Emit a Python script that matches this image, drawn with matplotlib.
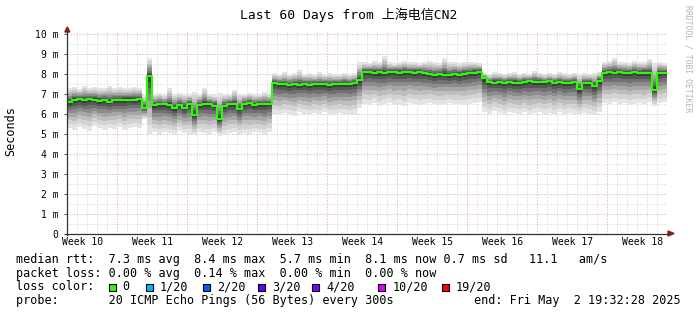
import numpy as np
import matplotlib
matplotlib.use("Agg")
import matplotlib.pyplot as plt
from matplotlib.patches import Rectangle, Polygon
from matplotlib.lines import Line2D

# ---------------------------------------------------------
# DATA  (one value per half day, 60 days -> 120 columns, values in ms)
# ---------------------------------------------------------
median_ms = [
    6.60, 6.72, 6.75, 6.70, 6.75, 6.72, 6.65, 6.70, 6.62, 6.70, 6.68, 6.72, 6.72, 6.70, 6.75,
    6.30, 7.90,
    6.45, 6.50, 6.48, 6.45, 6.30, 6.45, 6.32, 6.50, 5.95, 6.45, 6.50, 6.48, 6.42, 5.75, 6.40, 6.48,
    6.50, 6.25, 6.50, 6.55, 6.45, 6.50, 6.48, 6.52,
    7.55, 7.50, 7.48, 7.45, 7.50, 7.45, 7.52, 7.45, 7.50, 7.48, 7.50, 7.45, 7.48, 7.50, 7.52, 7.50,
    7.55, 7.70,
    8.10, 8.12, 8.08, 8.10, 8.05, 8.10, 8.10, 8.08, 8.12, 8.10, 8.08, 8.10, 8.05, 8.00, 7.95, 8.00,
    7.98, 7.95, 8.00, 7.97, 8.02, 8.05, 8.08, 8.10,
    7.80, 7.60, 7.58, 7.60, 7.55, 7.60, 7.58, 7.55, 7.60, 7.65, 7.62, 7.60, 7.60, 7.65, 7.58, 7.60,
    7.55, 7.58, 7.60, 7.25, 7.55, 7.55, 7.40, 7.65,
    8.05, 8.10, 8.08, 8.12, 8.05, 8.08, 8.10, 8.05, 8.08, 8.05, 7.20, 8.05, 8.08,
]
smoke_lo_ms = [
    5.30, 5.20, 5.35, 5.25, 5.15, 5.40, 5.30, 5.20, 5.30, 5.25, 5.35, 5.20, 5.30, 5.35, 5.30,
    5.75, 5.00,
    5.10, 5.00, 5.10, 5.05, 5.00, 5.15, 5.05, 5.00, 4.95, 5.10, 5.05, 5.00, 5.10, 4.90, 5.00, 5.05,
    5.10, 5.00, 5.05, 5.00, 5.10, 5.05, 5.00, 5.10,
    6.00, 5.95, 6.05, 6.00, 5.90, 6.10, 6.00, 5.95, 6.05, 6.00, 6.10, 5.95, 6.00, 6.05, 6.00, 5.95,
    6.00, 6.30,
    6.50, 6.45, 6.55, 6.40, 6.50, 6.55, 6.45, 6.50, 6.40, 6.55, 6.50, 6.45, 6.50, 6.55, 6.50, 6.45,
    6.50, 6.55, 6.50, 6.50, 6.45, 6.50, 6.55, 6.60,
    6.10, 6.00, 6.15, 6.05, 5.95, 6.10, 6.05, 6.00, 6.10, 5.95, 6.05, 6.10, 6.00, 6.05, 5.95, 6.10,
    6.00, 6.05, 6.00, 5.95, 6.05, 6.00, 5.95, 6.10,
    6.55, 6.50, 6.60, 6.50, 6.55, 6.45, 6.50, 6.55, 6.50, 6.60, 6.40, 6.55, 6.60,
]
smoke_hi_ms = [
    7.30, 7.35, 7.25, 7.40, 7.30, 7.35, 7.30, 7.30, 7.40, 7.30, 7.35, 7.30, 7.30, 7.35, 7.30,
    6.95, 8.80,
    7.00, 7.05, 6.95, 7.30, 7.00, 7.05, 7.00, 7.00, 7.10, 7.00, 7.30, 7.00, 6.95, 7.05, 7.00, 7.00,
    7.20, 7.00, 7.00, 7.05, 7.00, 7.00, 7.10, 7.00,
    8.05, 8.00, 8.10, 8.00, 8.05, 8.20, 8.00, 8.05, 8.00, 8.10, 8.00, 8.05, 8.00, 8.00, 8.05, 8.00,
    8.05, 8.60,
    8.60, 8.55, 8.65, 8.60, 8.90, 8.60, 8.55, 8.60, 8.65, 8.60, 8.60, 8.55, 8.60, 8.65, 8.60, 8.55,
    8.80, 8.60, 8.60, 8.55, 8.60, 8.60, 8.60, 8.55,
    8.05, 8.00, 8.10, 8.05, 8.00, 8.05, 8.10, 8.00, 8.05, 8.00, 8.15, 8.05, 8.00, 8.05, 8.00, 8.10,
    8.05, 8.00, 8.05, 8.00, 8.05, 8.00, 8.05, 8.10,
    8.60, 8.65, 8.80, 8.60, 8.60, 8.55, 8.65, 8.60, 8.60, 8.75, 8.55, 8.60, 8.55,
]

week_labels = ["Week 10", "Week 11", "Week 12", "Week 13", "Week 14",
               "Week 15", "Week 16", "Week 17", "Week 18"]
week_starts = [5, 12, 19, 26, 33, 40, 47, 54]   # day offsets of week boundaries
y_ticks = [0, 1, 2, 3, 4, 5, 6, 7, 8, 9, 10]

title = "Last 60 Days from 上海电信CN2"
rtt_line = "median rtt:  7.3 ms avg  8.4 ms max  5.7 ms min  8.1 ms now 0.7 ms sd   11.1   am/s"
loss_line = "packet loss: 0.00 % avg  0.14 % max  0.00 % min  0.00 % now"
probe_line = "probe:       20 ICMP Echo Pings (56 Bytes) every 300s"
end_line = "end: Fri May  2 19:32:28 2025"
loss_colors = [("0", "#26ff00"), ("1/20", "#00b8ff"), ("2/20", "#0059ff"),
               ("3/20", "#5e00ff"), ("4/20", "#7e00ff"), ("10/20", "#dd00ff"),
               ("19/20", "#ff0000")]

# ---------------------------------------------------------
# FIGURE
# ---------------------------------------------------------
W, H = 697, 315
MONO = ["DejaVu Sans Mono", "Noto Sans CJK SC"]
plt.rcParams["font.family"] = MONO

fig = plt.figure(figsize=(W / 100, H / 100), dpi=100)
fig.patch.set_facecolor("white")

def fx(px):
    return px / W

def fy(py):
    return 1 - py / H

x_left, x_right = 67.3, 667.3
y_zero, y_top = 233.5, 32.3
ax = fig.add_axes([fx(x_left), fy(y_zero), (x_right - x_left) / W, (y_zero - y_top) / H])
ax.set_xlim(0, 60)
ax.set_ylim(0, 10.1)
ax.set_facecolor("white")
for s in ax.spines.values():
    s.set_visible(False)

# grid (minor grey, major reddish, dotted)
dot = (0, (1, 2))
for d in range(1, 61):
    if d not in week_starts:
        ax.axvline(d, color="#cfcfcf", lw=0.72, ls=dot, zorder=0)
for v in np.arange(0.5, 10.1, 1.0):
    ax.axhline(v, color="#cfcfcf", lw=0.72, ls=dot, zorder=0)
for d in week_starts:
    ax.axvline(d, color="#dba3a3", lw=0.72, ls=dot, zorder=0)
for v in range(1, 11):
    ax.axhline(v, color="#dba3a3", lw=0.72, ls=dot, zorder=0)

# smoke
med = np.array(median_ms)
lo = np.array(smoke_lo_ms)
hi = np.array(smoke_hi_ms)
t = np.arange(len(med) + 1) * 0.5
ext = lambda a: np.append(a, a[-1])
layers = [(1.00, "#e4e4e4"), (0.85, "#d3d3d3"), (0.70, "#bebebe"), (0.56, "#a6a6a6"),
          (0.43, "#8c8c8c"), (0.31, "#717171"), (0.20, "#575757"), (0.10, "#3c3c3c")]
for f, c in layers:
    bottom = med - f * (med - lo)
    top = med + f * (hi - med)
    ax.fill_between(t, ext(bottom), ext(top), step="post", color=c, lw=0, zorder=2)

ax.step(t, ext(med), where="post", color="#26ff00", lw=1.5, zorder=3)

# ticks
ax.set_yticks(y_ticks)
ax.set_yticklabels(["0"] + [f"{v} m" for v in y_ticks[1:]])
ax.set_xticks([1.5 + 7 * k for k in range(len(week_labels))])
ax.set_xticklabels(week_labels)
ax.tick_params(axis="y", length=2, width=0.7, color="#555555", pad=4.5, labelsize=7)
ax.tick_params(axis="x", length=0, pad=2.5, labelsize=7)

# axes with arrows
fig.add_artist(Line2D([fx(x_left), fx(x_left)], [fy(y_zero + 1), fy(31)], color="#333333", lw=0.9))
fig.add_artist(Line2D([fx(x_left - 2), fx(669)], [fy(y_zero), fy(y_zero)], color="#333333", lw=0.9))
fig.add_artist(Polygon([[fx(x_left - 2.5), fy(32)], [fx(x_left + 2.5), fy(32)], [fx(x_left), fy(27)]],
                       closed=True, color="#8b1a1a"))
fig.add_artist(Polygon([[fx(668), fy(y_zero - 2.5)], [fx(668), fy(y_zero + 2.5)], [fx(674), fy(y_zero)]],
                       closed=True, color="#8b1a1a"))

# texts
fig.text(fx(348.5), fy(15), title, ha="center", va="center", fontsize=9.4)
fig.text(fx(11), fy(131), "Seconds", rotation=90, ha="center", va="center", fontsize=8.5)
fig.text(fx(688), fy(5), "RRDTOOL / TOBI OETIKER", rotation=270, ha="center", va="top",
         fontsize=5.8, color="#b4b4b4")

fig.text(fx(15.5), fy(260), rtt_line, ha="left", va="center", fontsize=8.5)
fig.text(fx(15.5), fy(273.5), loss_line, ha="left", va="center", fontsize=8.5)
fig.text(fx(15.5), fy(287), "loss color:", ha="left", va="center", fontsize=8.5)
sq_x = [108.7, 145.7, 203.0, 257.7, 312.3, 378.3, 441.7]
for (lab, col), sx in zip(loss_colors, sq_x):
    fig.add_artist(Rectangle((fx(sx), fy(290.5)), 7 / W, 7 / H, facecolor=col,
                             edgecolor="black", lw=0.8))
    fig.text(fx(sx + 14), fy(287), lab, ha="left", va="center", fontsize=8.5)
fig.text(fx(15.5), fy(300.5), probe_line, ha="left", va="center", fontsize=8.5)
fig.text(fx(681), fy(300.5), end_line, ha="right", va="center", fontsize=8.5)

fig.savefig("out.png", dpi=100)
